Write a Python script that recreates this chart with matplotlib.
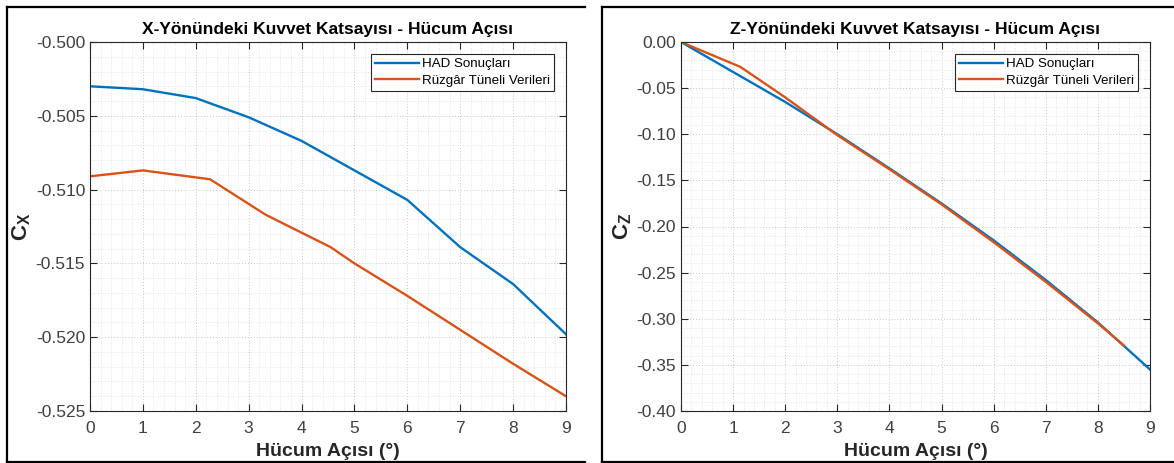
import matplotlib
matplotlib.use('Agg')
import matplotlib.pyplot as plt
from matplotlib.ticker import MultipleLocator, FormatStrFormatter
from matplotlib.lines import Line2D

plt.rcParams['font.family'] = ['Liberation Sans', 'DejaVu Sans']
plt.rcParams['axes.unicode_minus'] = False
plt.rcParams['mathtext.fontset'] = 'custom'
plt.rcParams['mathtext.rm'] = 'Liberation Sans'
plt.rcParams['mathtext.bf'] = 'Liberation Sans:bold'

# X-direction force coefficient
had_x_aoa = [0, 1, 2, 3, 4, 5, 6, 7, 8, 9]
had_cx = [-0.5030, -0.5032, -0.5038, -0.5051, -0.5067, -0.5087, -0.5107, -0.5139, -0.5164, -0.5198]
wt_x_aoa = [0, 1.0, 2.27, 3.32, 4.55, 5.0, 6.0, 7.0, 8.0, 9.0]
wt_cx = [-0.5091, -0.5087, -0.5093, -0.5117, -0.5139, -0.5150, -0.5172, -0.5195, -0.5218, -0.5240]

# Z-direction force coefficient
had_z_aoa = [0, 1, 2, 3, 4, 5, 6, 7, 8, 9]
had_cz = [0.0, -0.0325, -0.065, -0.100, -0.137, -0.175, -0.215, -0.258, -0.304, -0.355]
wt_z_aoa = [0, 1.14, 2.0, 3.0, 4.0, 5.0, 6.0, 7.0, 8.0, 8.5]
wt_cz = [0.0, -0.027, -0.060, -0.101, -0.138, -0.176, -0.217, -0.260, -0.305, -0.329]

labels = ['HAD Sonuçları', 'Rüzgâr Tüneli Verileri']
blue = '#0072BD'
orange = '#D95319'
ink = '#262626'

fig = plt.figure(figsize=(11.74, 4.63), dpi=100)

# panel frames (screenshot borders, right side open)
W, H = 1174, 463
for x0, x1 in [(7, 585), (602, 1174)]:
    for xs, ys in [([x0, x0], [7, 462]), ([x0, x1], [7, 7]), ([x0, x1], [462, 462])]:
        fig.add_artist(Line2D([v / W for v in xs], [1 - v / H for v in ys],
                              color='black', lw=1.6, transform=fig.transFigure))


def style_axes(ax, title, ylab, ymaj, ymin, fmt, ylim):
    ax.set_xlim(0, 9)
    ax.set_ylim(*ylim)
    ax.xaxis.set_major_locator(MultipleLocator(1))
    ax.xaxis.set_minor_locator(MultipleLocator(0.2))
    ax.yaxis.set_major_locator(MultipleLocator(ymaj))
    ax.yaxis.set_minor_locator(MultipleLocator(ymin))
    ax.yaxis.set_major_formatter(FormatStrFormatter(fmt))
    ax.tick_params(which='both', direction='in', top=True, right=True, colors=ink,
                   labelsize=12.5, width=0.8)
    ax.tick_params(which='major', length=5)
    ax.tick_params(which='minor', length=0)
    ax.tick_params(axis='x', pad=7)
    for lbl in ax.get_xticklabels() + ax.get_yticklabels():
        lbl.set_color('#404040')
    for s in ax.spines.values():
        s.set_color(ink)
        s.set_linewidth(0.8)
    ax.grid(which='major', color='#c8c8c8', ls=(0, (1, 2)), lw=0.7)
    ax.grid(which='minor', color='#dedede', ls=(0, (1, 2)), lw=0.6)
    ax.set_axisbelow(True)
    ax.set_title(title, fontsize=12.5, fontweight='bold', color='black', pad=6)
    ax.set_xlabel('Hücum Açısı (°)', fontsize=14, fontweight='bold', color=ink, labelpad=5)
    ax.set_ylabel(ylab, fontsize=16, color=ink, labelpad=2)
    leg = ax.legend(loc='upper right', fontsize=9.6, fancybox=False, framealpha=1,
                    edgecolor=ink, borderaxespad=0.9, handlelength=3.3,
                    handletextpad=0.25, borderpad=0.3, labelspacing=0.3)
    leg.get_frame().set_linewidth(0.8)


ax1 = fig.add_axes([90 / W, 1 - 411 / H, 476 / W, 369 / H])
ax1.plot(had_x_aoa, had_cx, color=blue, lw=1.7, label=labels[0])
ax1.plot(wt_x_aoa, wt_cx, color=orange, lw=1.7, label=labels[1])
style_axes(ax1, 'X-Yönündeki Kuvvet Katsayısı - Hücum Açısı', r'$\mathbf{C_X}$',
           0.005, 0.001, '%.3f', (-0.525, -0.500))

ax2 = fig.add_axes([681 / W, 1 - 411 / H, 469 / W, 369 / H])
ax2.plot(had_z_aoa, had_cz, color=blue, lw=1.7, label=labels[0])
ax2.plot(wt_z_aoa, wt_cz, color=orange, lw=1.7, label=labels[1])
style_axes(ax2, 'Z-Yönündeki Kuvvet Katsayısı - Hücum Açısı', r'$\mathbf{C_Z}$',
           0.05, 0.01, '%.2f', (-0.40, 0.0))

fig.savefig('out.png', dpi=100)
